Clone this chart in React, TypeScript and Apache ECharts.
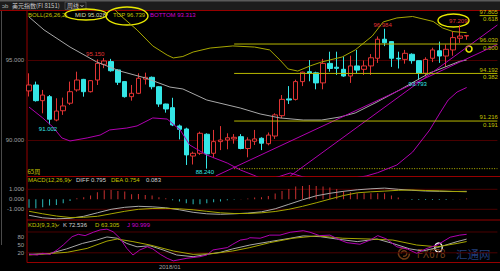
import React, { useEffect, useRef } from 'react';
import * as echarts from 'echarts';

// ---------------- data ----------------
const SLOTS = 69; // 65 weekly candles + empty space on the right
const categories = Array.from({ length: SLOTS }, (_, i) => `W${i + 1}`);
const timeTicks = [{ index: 19, text: '2018/01' }];

// [open, close, low, high]
const candles: number[][] = [
  [93.10, 93.47, 92.75, 94.20], [93.47, 92.49, 92.43, 93.68], [92.49, 92.84, 91.70, 93.16],
  [92.74, 91.33, 91.002, 92.84], [91.28, 91.84, 91.20, 92.64], [91.86, 92.16, 91.60, 92.68],
  [92.33, 93.05, 92.22, 93.68], [93.16, 93.78, 93.05, 94.30], [93.82, 93.05, 92.74, 93.85],
  [93.05, 93.74, 93.00, 93.78], [93.78, 94.82, 93.47, 95.07], [94.76, 94.97, 94.52, 95.15],
  [94.93, 94.36, 94.30, 95.10], [94.41, 93.64, 93.47, 94.45], [93.68, 92.74, 92.68, 93.70],
  [92.74, 92.95, 92.49, 93.47], [92.95, 93.89, 92.90, 94.20], [93.83, 93.95, 93.50, 94.24],
  [93.95, 93.36, 93.20, 94.00], [93.36, 92.28, 92.10, 93.40], [92.28, 91.97, 91.74, 92.30],
  [92.05, 90.97, 90.90, 92.67], [90.91, 90.70, 90.07, 91.00], [90.72, 89.10, 88.47, 90.80],
  [89.03, 89.20, 88.50, 89.30], [89.20, 90.45, 89.10, 90.55], [90.39, 89.16, 88.24, 90.45],
  [89.20, 89.93, 88.90, 90.66], [89.93, 90.03, 89.40, 90.90], [90.03, 90.17, 89.45, 90.45],
  [90.10, 90.20, 89.80, 90.40], [90.24, 89.50, 89.45, 90.40], [89.50, 90.03, 88.95, 90.20],
  [89.95, 90.10, 89.72, 90.66], [90.14, 89.83, 89.40, 90.20], [89.80, 90.34, 89.70, 90.50],
  [90.28, 91.60, 90.10, 91.70], [91.55, 92.57, 91.40, 92.84], [92.60, 92.53, 92.28, 93.40],
  [92.57, 93.68, 92.50, 93.80], [93.68, 94.27, 93.40, 94.30], [94.30, 94.20, 93.70, 95.03],
  [94.23, 93.60, 93.20, 94.30], [93.60, 94.82, 93.20, 95.10], [94.82, 94.50, 94.30, 95.55],
  [94.58, 94.51, 94.10, 95.55], [94.45, 94.03, 93.98, 95.25], [94.03, 94.66, 93.60, 95.30],
  [94.66, 94.40, 94.20, 95.66], [94.45, 94.66, 94.10, 95.00], [94.66, 95.17, 94.10, 95.40],
  [95.14, 96.33, 94.85, 96.50], [96.33, 96.11, 95.90, 96.984], [96.18, 95.14, 94.60, 96.20],
  [95.14, 95.10, 94.50, 95.55], [95.07, 95.45, 94.80, 95.66], [95.39, 94.99, 94.80, 95.45],
  [94.99, 94.20, 93.793, 95.00], [94.20, 95.07, 94.00, 95.20], [95.14, 95.66, 94.90, 95.80],
  [95.61, 95.28, 94.85, 96.18], [95.28, 95.70, 94.60, 96.00], [95.66, 96.43, 95.30, 96.80],
  [96.39, 96.53, 96.10, 97.209], [96.53, 96.56, 96.30, 96.58],
];

// [week index, price, kind]
const extremes: [number, number, string][] = [
  [11, 95.150, 'high'], [3, 91.002, 'low'], [26, 88.240, 'low'],
  [52, 96.984, 'high'], [57, 93.793, 'low'], [63, 97.209, 'high'],
];

// Bollinger bands: [week index, value]
const bollMid = [[0, 97.72], [2.2, 96.91], [6, 95.84], [9.9, 94.91], [13.3, 94.34], [17, 93.91], [20.6, 93.34], [22.5, 93.22], [26, 92.53], [30.9, 92.03], [33.8, 91.66], [36.7, 91.41], [40.1, 91.28], [42.8, 91.28], [45.5, 91.47], [47.7, 91.72], [50.6, 92.34], [54.2, 93.16], [58.6, 94.22], [63, 94.95], [64, 95.028]];
const bollTop = [[11.5, 98.9], [12.6, 98.16], [13.3, 97.84], [15.8, 96.91], [18.1, 95.91], [20.2, 95.34], [21.1, 95.16], [22.5, 95.25], [24, 95.53], [26.5, 95.78], [29.8, 95.91], [33, 95.84], [35.2, 95.66], [36.7, 95.03], [37.9, 94.47], [39.3, 94.34], [41.1, 94.66], [42.8, 94.91], [45.8, 95.22], [47.7, 95.66], [50.2, 96.53], [51.8, 97.41], [53.8, 97.66], [56.1, 97.75], [59.1, 97.44], [60.5, 97.03], [62, 96.81], [64, 96.739]];
const bollBottom = [[0, 92.09], [2, 91.41], [3.5, 90.84], [4.8, 90.16], [6, 89.97], [8.5, 90.16], [10.4, 90.34], [11.8, 90.66], [14.3, 90.78], [15.8, 90.91], [18.1, 91.41], [20.2, 91.34], [22.1, 90.66], [23.5, 89.72], [26, 89.09], [29, 88.59], [30.9, 88.16], [32.8, 87.84], [34.5, 87.53], [36.4, 87.72], [38.2, 87.97], [40.1, 87.72], [44, 87.41], [49.3, 87.78], [51, 87.99], [53.8, 88.47], [56.1, 89.28], [58.6, 90.66], [60.1, 91.72], [61.3, 92.53], [62.6, 93.03], [64, 93.313]];
const bollLegend = { mid: 95.028, top: 96.739, bottom: 93.313 };

// trend lines [week index, price]
const trendA = [[27.3, 87.78], [68.5, 96.0]];
const trendB = [[38.2, 87.78], [68.5, 97.22]];

// Fibonacci levels: [price, ratio, first week index drawn]
const fibLevels: [number, string, number][] = [[97.805, '0.618', 65.9], [96.030, '0.500', 30], [94.192, '0.382', 30], [91.216, '0.191', 30]];
const fibLow: [number, number] = [88.24, 30];

// MACD
const macdHist = [-0.84, -0.9, -0.8, -0.63, -0.57, -0.4, -0.17, 0.1, 0.2, 0.37, 0.7, 0.9, 0.93, 0.83, 0.77, 0.5, 0.53, 0.43, 0.37, 0.2, 0.1, -0.1, -0.23, -0.4, -0.5, -0.5, -0.4, -0.3, -0.23, -0.1, -0.05, 0.02, 0.08, 0.17, 0.2, 0.33, 0.57, 0.83, 1.03, 1.27, 1.33, 1.43, 1.33, 1.27, 1.17, 1.03, 0.83, 0.7, 0.6, 0.6, 0.6, 0.6, 0.6, 0.37, 0.17, 0.03, -0.07, -0.07, -0.07, -0.07, -0.07, -0.07, -0.03, 0.02, 0.083];
const macdDiff = [[0, -1.6], [2, -1.85], [4, -1.95], [6, -1.9], [8, -1.7], [10, -1.35], [12, -1.0], [14, -0.8], [16, -0.7], [18, -0.75], [20, -0.85], [22, -1.05], [24, -1.3], [26, -1.45], [28, -1.5], [30, -1.45], [32, -1.38], [34, -1.25], [36, -0.95], [38, -0.5], [40, -0.05], [42, 0.35], [44, 0.6], [46, 0.8], [48, 0.95], [50, 1.05], [52, 1.12], [54, 1.0], [56, 0.9], [58, 0.83], [60, 0.8], [62, 0.78], [64, 0.795]];
const macdDea = [[0, -1.2], [2, -1.45], [4, -1.67], [6, -1.82], [8, -1.8], [10, -1.7], [12, -1.45], [14, -1.2], [16, -1.0], [18, -0.92], [20, -0.9], [22, -0.95], [24, -1.05], [26, -1.2], [28, -1.35], [30, -1.42], [32, -1.42], [34, -1.35], [36, -1.22], [38, -1.0], [40, -0.7], [42, -0.35], [44, 0.02], [46, 0.38], [48, 0.65], [50, 0.75], [52, 0.82], [54, 0.9], [56, 0.93], [58, 0.88], [60, 0.84], [62, 0.79], [64, 0.754]];
const macdLegend = { diff: 0.795, dea: 0.754, macd: 0.083 };

// KDJ
const kdjK = [[0, 14], [3, 17], [5.5, 35], [7.8, 56], [9.9, 69], [11.4, 81], [12.9, 76], [14.3, 56], [15.8, 43], [17.7, 47], [19.6, 31], [21.6, 11.5], [24, 5], [26, 14], [28, 22], [29.8, 35], [32.3, 50], [35.2, 63], [38.2, 76], [40.1, 85], [42.6, 82], [45, 73], [48, 63], [50.9, 73], [53.2, 56], [55.7, 35], [57.6, 27], [59.7, 40], [62.6, 63], [64, 72.536]];
const kdjD = [[0, 11.5], [5.6, 22], [8.5, 37], [11.4, 65], [12.9, 73], [15.2, 63], [17.7, 50], [21.1, 27], [24, 14], [26.9, 17], [29.8, 27], [32.3, 40], [35.2, 59], [38.6, 76], [42.1, 85], [45.9, 76], [49.9, 73], [53.2, 69], [56.7, 50], [59.7, 43], [62.6, 56], [64, 63.305]];
const kdjJ = [[0, 15], [1.2, 11.5], [2, 18], [3.1, 14], [4.1, 31], [5, 50], [6.3, 82], [7.2, 91], [8.2, 86], [9.4, 99], [10.4, 108], [11.4, 111], [12.3, 101], [13.3, 76], [14.3, 37], [15.2, 11.5], [16.2, 31], [17.3, 43], [18.1, 35], [19.2, 14], [20.2, -1], [21.1, -11], [23.1, -1], [25, 5], [26, 11.5], [26.9, 31], [29, 40], [29.8, 53], [30.9, 69], [31.9, 73], [32.3, 78], [33.8, 76], [35.2, 88], [36.7, 88], [38.2, 99], [40.1, 105], [41.1, 99], [42.5, 86], [44, 88], [45.5, 69], [46.5, 59], [48.4, 53], [49.9, 69], [51, 86], [52.3, 73], [53.8, 43], [55.3, 35], [56.7, 18], [58.2, 37], [59.7, 50], [61.6, 80], [63, 88], [64, 90.999]];
const kdjLegend = { k: 72.536, d: 63.305, j: 90.999 };

const priceTicks = [90, 95];
const macdTicks = [-1, 0, 1];
const kdjTicks = [0, 20, 50, 80, 100];

// ---------------- styling ----------------
const FONT = '"Liberation Sans", Arial, sans-serif';
const CJK = '"Noto Sans CJK SC", sans-serif';
const C = {
  border: '#960000', grid: '#4a0000', olive: '#c4c400', yLine: '#a6a600', fib: '#b8b800',
  magenta: '#b000b0', magText: '#d000d0', gray: '#a8a8a8', white: '#d0d0d0',
  red: '#e03434', cyan: '#34e6e6', axisText: '#a0a0a0', annot: '#e8e800',
};
const labelNudge: [number, number][] = [[-9, -4], [-1.5, 4.5], [-2, 3.5], [-2, -4], [-1, 4.5], [-1.5, -4]];
const RIGHT = SLOTS - 0.5;

const G = { left: 25.6, right: 2.6 };
const grids = [
  { ...G, top: 10.5, height: 165.5 },
  { ...G, top: 176.5, height: 43.5 },
  { ...G, top: 220, height: 42 },
];

const xCat = (gridIndex: number, withLabel = false) => ({
  type: 'category', gridIndex, data: categories, boundaryGap: true,
  axisLine: { show: false }, axisTick: { show: false }, splitLine: { show: false },
  axisLabel: withLabel ? {
    show: true, interval: (i: number) => timeTicks.some(t => t.index === i),
    formatter: (_v: string, i: number) => (timeTicks.find(t => t.index === i) || { text: '' }).text,
    align: 'left', color: C.axisText, fontSize: 6, fontFamily: FONT, margin: 1.5,
  } : { show: false },
});
const xVal = (gridIndex: number) => ({ type: 'value', gridIndex, min: -0.5, max: RIGHT, show: false });
const yAx = (gridIndex: number, min: number, max: number, values: number[], fmt: (v: number) => string) => ({
  type: 'value', gridIndex, min, max,
  axisLine: { show: false }, axisTick: { show: false }, splitLine: { show: false },
  axisLabel: { show: true, customValues: values, formatter: fmt, color: C.axisText, fontSize: 6, fontFamily: FONT, margin: 1.5 },
});

const lineS = (name: string, xi: number, yi: number, data: any[], color: string, extra: any = {}) => ({
  name, type: 'line', xAxisIndex: xi, yAxisIndex: yi, data, showSymbol: false, symbol: 'none',
  lineStyle: { color, width: 1 }, itemStyle: { color }, z: 3, silent: true, ...extra,
});

// horizontal grid lines as 2-point line series across the whole plot
const gridSeries = (xi: number, yi: number, values: number[]) => values.map((v, k) =>
  lineS(`grid${xi}_${k}`, xi, yi, [[-0.5, v], [RIGHT, v]], C.grid, { z: 1 }));

const fibSeries = () => {
  const out: any[] = fibLevels.map(([p, r, start]) => lineS(`fib ${r}`, 1, 0, [[start, p], [RIGHT, p]], C.fib, {
    z: 4,
    markPoint: {
      symbol: 'circle', symbolSize: 1, silent: true, itemStyle: { color: 'rgba(0,0,0,0)' },
      label: { show: true, position: 'left', distance: 0, color: C.olive, fontSize: 6, fontFamily: FONT },
      data: [
        { coord: [RIGHT, p], label: { formatter: p.toFixed(3), offset: [1, -3.6] } },
        { coord: [RIGHT, p], label: { formatter: r, offset: [1, 3.8] } },
      ],
    },
  }));
  out.push(lineS('fib low', 1, 0, [[fibLow[1], fibLow[0]], [RIGHT, fibLow[0]]], C.fib, { z: 2, lineStyle: { color: C.fib, width: 1, type: [1, 1.5] } }));
  return out;
};

const txt = (x: number, y: number, text: string, fill: string, font = `6px ${FONT}`) => ({
  type: 'text', x, y, silent: true, style: { text, fill, font, textVerticalAlign: 'middle' },
});
const chevron = (x: number, y: number, color: string) => ({
  type: 'polyline', silent: true, shape: { points: [[x, y - 1], [x + 1.5, y + 0.8], [x + 3, y - 1]] },
  style: { stroke: color, lineWidth: 0.8, fill: null },
});
const hl = (x1: number, x2: number, y: number, color = C.border) => ({
  type: 'line', silent: true, shape: { x1, y1: y, x2, y2: y }, style: { stroke: color, lineWidth: 1 },
});
const ell = (cx: number, cy: number, rx: number, ry: number, color = C.annot) => ({
  type: 'ellipse', silent: true, shape: { cx, cy, rx, ry }, style: { stroke: color, lineWidth: 1.4, fill: null },
});

const graphics: any[] = [
  { type: 'rect', silent: true, shape: { x: 0, y: 0, width: 500, height: 10 }, style: { fill: '#1c1c1c' } },
  { type: 'rect', silent: true, shape: { x: 0, y: 0, width: 500, height: 1.5 }, style: { fill: '#5a5a5a' } },
  txt(2, 5.8, 'ↄb', '#b0b0b0'),
  txt(12, 5.8, '美元指数(FI 8151)', '#c8c8c8', `6px ${CJK}`),
  { type: 'rect', silent: true, shape: { x: 65, y: 2, width: 21, height: 7.5 }, style: { stroke: '#666', lineWidth: 0.6, fill: null } },
  txt(67, 5.8, '周线', '#c8c8c8', `6px ${CJK}`),
  chevron(80.5, 6, '#c8c8c8'),
  // frame
  { type: 'line', silent: true, shape: { x1: 1.5, y1: 10, x2: 1.5, y2: 245 }, style: { stroke: '#4a4a4a', lineWidth: 1 } },
  hl(0, 500, 10.5), hl(27, 500, 176.5), hl(27, 500, 220), hl(27, 500, 262.5),
  { type: 'line', silent: true, shape: { x1: 27, y1: 10.5, x2: 27, y2: 262.5 }, style: { stroke: C.border, lineWidth: 1 } },
  // legends
  txt(28, 14.5, 'BOLL(26,26,2)', C.olive),
  txt(75, 14.5, `MID ${bollLegend.mid.toFixed(3)}`, '#d8d8b0'),
  txt(113, 14.5, `TOP ${bollLegend.top.toFixed(3)}`, C.olive),
  txt(150, 14.5, `BOTTOM ${bollLegend.bottom.toFixed(3)}`, C.magText),
  txt(27.5, 171, '65周', C.olive, `6px ${CJK}`),
  txt(28, 180.3, 'MACD(12,26,9)', C.olive), chevron(68.5, 180.5, C.olive),
  txt(76, 180.3, `DIFF ${macdLegend.diff.toFixed(3)}`, C.white),
  txt(111, 180.3, `DEA ${macdLegend.dea.toFixed(3)}`, C.olive),
  txt(146, 180.3, macdLegend.macd.toFixed(3), C.white),
  txt(28, 225.3, 'KDJ(9,3,3)', C.olive), chevron(56, 225.5, C.olive),
  txt(63, 225.3, `K ${kdjLegend.k.toFixed(3)}`, C.white),
  txt(95, 225.3, `D ${kdjLegend.d.toFixed(3)}`, C.olive),
  txt(127, 225.3, `J ${kdjLegend.j.toFixed(3)}`, C.magText),
  // annotations
  ell(86, 14.5, 21, 5.5), ell(127, 16, 21, 9), ell(453.5, 20.5, 15.5, 6.5),
  { type: 'circle', silent: true, shape: { cx: 469, cy: 49, r: 3 }, style: { stroke: C.annot, lineWidth: 1.6, fill: null } },
  ell(438.5, 247.5, 3.7, 4.5, '#f0f0f0'),
  // watermark
  { type: 'arc', silent: true, shape: { cx: 404, cy: 253.5, r: 5.5, startAngle: 0, endAngle: Math.PI * 1.7 }, style: { stroke: '#6e3a14', lineWidth: 1.6, fill: null } },
  { type: 'arc', silent: true, shape: { cx: 404, cy: 253.5, r: 2.8, startAngle: Math.PI, endAngle: Math.PI * 2.6 }, style: { stroke: '#6e3a14', lineWidth: 1.4, fill: null } },
  { type: 'text', x: 417, y: 253.5, scaleX: 0.74, silent: true, style: { text: 'FX678', fill: '#74401a', font: `13px ${FONT}`, textVerticalAlign: 'middle' } },
  txt(456, 253.5, '汇通网', '#223e7a', `11.5px ${CJK}`),
];

const option: any = {
  animation: false,
  backgroundColor: '#000000',
  grid: grids,
  xAxis: [xCat(0), xVal(0), xCat(1), xVal(1), xCat(2, true), xVal(2)],
  yAxis: [
    yAx(0, 87.781, 98.125, priceTicks, v => v.toFixed(3)),
    yAx(1, -2.07, 2.28, macdTicks, v => v.toFixed(3)),
    yAx(2, -15.38, 146.15, kdjTicks, v => String(v)),
  ],
  series: [
    ...gridSeries(1, 0, priceTicks),
    ...gridSeries(3, 1, [-1, 1]),
    ...gridSeries(5, 2, [20, 100]),
    {
      name: 'USDX', type: 'candlestick', xAxisIndex: 0, yAxisIndex: 0, barWidth: 5, z: 2, silent: true,
      data: candles.map(([o, c, l, h]) => [o, c, l, h]),
      itemStyle: { color: '#000000', color0: C.cyan, borderColor: C.red, borderColor0: C.cyan, borderWidth: 1 },
      markPoint: {
        symbol: 'circle', symbolSize: 1, silent: true, itemStyle: { color: 'rgba(0,0,0,0)' },
        data: extremes.map(([i, p, kind], k) => ({
          coord: [i, p], value: p,
          label: { show: true, position: 'inside', formatter: p.toFixed(3), color: kind === 'high' ? C.red : C.cyan, fontSize: 6, fontFamily: FONT, offset: labelNudge[k] },
        })),
      },
    },
    lineS('MID', 1, 0, bollMid, C.gray),
    lineS('TOP', 1, 0, bollTop, C.yLine),
    lineS('BOTTOM', 1, 0, bollBottom, C.magenta),
    lineS('trendA', 1, 0, trendA, C.magenta),
    lineS('trendB', 1, 0, trendB, C.magenta),
    ...fibSeries(),
    {
      name: 'MACD', type: 'bar', xAxisIndex: 2, yAxisIndex: 1, barWidth: 1, silent: true, z: 2,
      data: macdHist.map(v => ({ value: v, itemStyle: { color: v >= 0 ? '#c83030' : '#2cb8b8' } })),
    },
    lineS('DIFF', 3, 1, macdDiff, C.gray),
    lineS('DEA', 3, 1, macdDea, C.yLine),
    lineS('K', 5, 2, kdjK, C.gray),
    lineS('D', 5, 2, kdjD, C.yLine),
    lineS('J', 5, 2, kdjJ, C.magenta),
  ],
  graphic: { elements: graphics },
};

export default function App() {
  const ref = useRef<HTMLDivElement>(null);
  useEffect(() => {
    document.body.style.margin = '0';
    document.body.style.background = '#000';
    const chart = echarts.init(ref.current as HTMLDivElement, null, { renderer: 'svg' });
    chart.setOption(option);
    return () => chart.dispose();
  }, []);
  return <div ref={ref} style={{ width: 500, height: 271, background: '#000' }} />;
}
